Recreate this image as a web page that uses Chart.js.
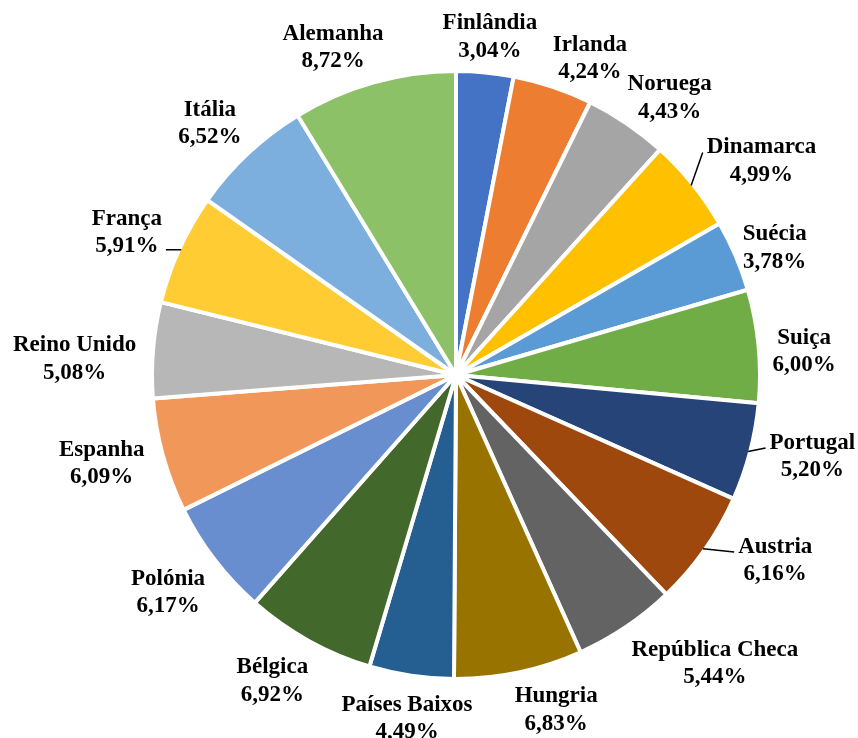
<!DOCTYPE html>
<html>
<head>
<meta charset="utf-8">
<script src="https://cdn.jsdelivr.net/npm/chart.js@4.4.1/dist/chart.umd.min.js"></script>
<style>
    html, body { margin: 0; padding: 0; background: #ffffff; }
    #wrap { width: 858px; height: 738px; }
</style>
</head>
<body>
<div id="wrap"><canvas id="sharePie" width="858" height="738"></canvas></div>
<script>
// Country shares (%), clockwise from the top
const countries = ['Finlândia', 'Irlanda', 'Noruega', 'Dinamarca', 'Suécia', 'Suiça', 'Portugal', 'Austria',
    'República Checa', 'Hungria', 'Países Baixos', 'Bélgica', 'Polónia', 'Espanha', 'Reino Unido', 'França',
    'Itália', 'Alemanha'];
const shares = [3.04, 4.24, 4.43, 4.99, 3.78, 6.00, 5.20, 6.16, 5.44, 6.83, 4.49, 6.92, 6.17, 6.09, 5.08, 5.91, 6.52, 8.72];
const sliceColors = ['#4472C4', '#ED7D31', '#A5A5A5', '#FFC000', '#5B9BD5', '#70AD47', '#264478', '#9E480E',
    '#636363', '#997300', '#255E91', '#43682B', '#698ED0', '#F1975A', '#B7B7B7', '#FFCD33', '#7CAFDD', '#8CC168'];

// label placement tweaks (px) on top of the outside-end position
const labelNudge = [[0, -5.5], [24, 0], [17, -1], [23, -5], [6, 3], [10, 7], [17, -5], [37, -9], [40, 9],
    [28, 5], [6, 10], [-17, 11], [-14, 12], [-16, -2], [-13, 10], [-17, -5], [-14, -8], [-26, -6]];
// slices whose label gets a leader line, and where the line meets the label
const leaderDy = { 3: -7, 6: -7, 7: -7, 15: 19 };

const LABEL_FONT = 'bold 23px "Liberation Serif", "Times New Roman", serif';
const LINE_GAP = 27.5;

function fmtShare(v) {
    return v.toFixed(2).replace('.', ',') + '%';
}

const outsideLabels = {
    id: 'outsideLabels',
    afterDatasetsDraw(chart) {
        const ctx = chart.ctx;
        const meta = chart.getDatasetMeta(0);
        const bw = chart.data.datasets[0].borderWidth;
        ctx.save();
        ctx.font = LABEL_FONT;
        ctx.fillStyle = '#000';
        ctx.strokeStyle = '#000';
        ctx.lineWidth = 1.5;
        ctx.textAlign = 'center';
        ctx.textBaseline = 'alphabetic';
        meta.data.forEach((arc, i) => {
            const p = arc.getProps(['x', 'y', 'startAngle', 'endAngle', 'outerRadius'], true);
            const mid = (p.startAngle + p.endAngle) / 2;
            const ux = Math.cos(mid), uy = Math.sin(mid);
            const reach = p.outerRadius - bw / 2;
            const name = countries[i];
            const pct = fmtShare(shares[i]);
            const w = Math.max(ctx.measureText(name).width, ctx.measureText(pct).width);
            const h = 2 * LINE_GAP;
            const cx = p.x + (reach + 6) * ux + ux * w / 2 + labelNudge[i][0];
            const cy = p.y + (reach + 6) * uy + uy * h / 2 + labelNudge[i][1];
            ctx.fillText(name, cx, cy - LINE_GAP / 2 + 7.5);
            ctx.fillText(pct, cx, cy + LINE_GAP / 2 + 7.5);

            if (leaderDy[i] !== undefined) {
                const ax = p.x + reach * ux, ay = p.y + reach * uy;
                const lx = ux > 0 ? cx - w / 2 - 4 : cx + w / 2 + 4;
                const ly = cy + leaderDy[i];
                ctx.beginPath();
                ctx.moveTo(ax, ay);
                ctx.lineTo(lx, ly);
                ctx.stroke();
            }
        });
        ctx.restore();
    }
};

new Chart(document.getElementById('sharePie'), {
    type: 'pie',
    data: {
        labels: countries,
        datasets: [{
            data: shares,
            backgroundColor: sliceColors,
            borderColor: '#ffffff',
            borderWidth: 4
        }]
    },
    options: {
        responsive: false,
        animation: false,
        radius: 304,
        layout: { padding: { left: 60, right: 6, top: 20, bottom: 8 } },
        plugins: {
            legend: { display: false },
            tooltip: { enabled: false }
        }
    },
    plugins: [outsideLabels]
});
</script>
</body>
</html>
